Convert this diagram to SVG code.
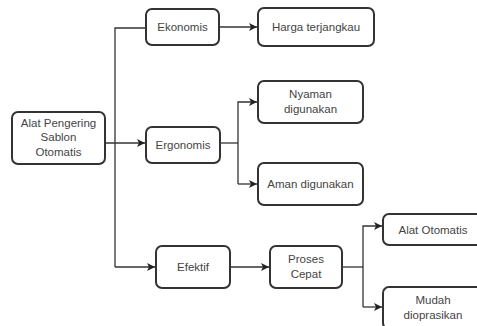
<svg xmlns="http://www.w3.org/2000/svg" width="477" height="326" viewBox="0 0 477 326">
<defs>
<style>
.box{fill:#fff;stroke:#333;stroke-width:2}
.t{font-family:"Liberation Sans",Arial,sans-serif;font-size:11.5px;fill:#444;text-anchor:middle}
.c{fill:none;stroke:#333;stroke-width:1.3}
</style>
<marker id="ah" viewBox="0 0 10 10" refX="10" refY="5" markerWidth="8" markerHeight="8" markerUnits="userSpaceOnUse" orient="auto">
<path d="M0,0 L10,5 L0,10 L2.5,5 Z" fill="#222"/>
</marker>
</defs>
<rect width="477" height="326" fill="#fff"/>
<g id="connectors">
<path class="c" d="M106,143 H145" marker-end="url(#ah)"/>
<path class="c" d="M115,267 V28 H146"/>
<path class="c" d="M115,267 H155" marker-end="url(#ah)"/>
<path class="c" d="M219,27 H257" marker-end="url(#ah)"/>
<path class="c" d="M220,143 H238"/>
<path class="c" d="M238,184 V102 H257" marker-end="url(#ah)"/>
<path class="c" d="M238,184 H257" marker-end="url(#ah)"/>
<path class="c" d="M230,267 H269" marker-end="url(#ah)"/>
<path class="c" d="M342,267 H363"/>
<path class="c" d="M363,307 V226 H382" marker-end="url(#ah)"/>
<path class="c" d="M363,307 H382" marker-end="url(#ah)"/>
</g>
<g id="root">
<rect class="box" x="12" y="112" width="93" height="52" rx="6"/>
<text class="t" x="58.5" y="127">Alat Pengering</text>
<text class="t" x="58.5" y="141">Sablon</text>
<text class="t" x="58.5" y="156">Otomatis</text>
</g>
<g id="ekonomis">
<rect class="box" x="146" y="9" width="73" height="36" rx="6"/>
<text class="t" x="182.5" y="31">Ekonomis</text>
</g>
<g id="ergonomis">
<rect class="box" x="146" y="127" width="74" height="36" rx="6"/>
<text class="t" x="183" y="149">Ergonomis</text>
</g>
<g id="efektif">
<rect class="box" x="156" y="246" width="74" height="42" rx="6"/>
<text class="t" x="193" y="271">Efektif</text>
</g>
<g id="harga">
<rect class="box" x="258" y="8" width="116" height="38" rx="6"/>
<text class="t" x="316" y="31">Harga terjangkau</text>
</g>
<g id="nyaman">
<rect class="box" x="258" y="81" width="105" height="42" rx="6"/>
<text class="t" x="310.5" y="98">Nyaman</text>
<text class="t" x="310.5" y="113">digunakan</text>
</g>
<g id="aman">
<rect class="box" x="258" y="163" width="105" height="42" rx="6"/>
<text class="t" x="310.5" y="188">Aman digunakan</text>
</g>
<g id="proses">
<rect class="box" x="270" y="246" width="72" height="42" rx="6"/>
<text class="t" x="306" y="263">Proses</text>
<text class="t" x="306" y="278">Cepat</text>
</g>
<g id="alat">
<rect class="box" x="383" y="214" width="100" height="31" rx="6"/>
<text class="t" x="433" y="234">Alat Otomatis</text>
</g>
<g id="mudah">
<rect class="box" x="383" y="287" width="100" height="42" rx="6"/>
<text class="t" x="433" y="304">Mudah</text>
<text class="t" x="433" y="319">dioprasikan</text>
</g>
</svg>
